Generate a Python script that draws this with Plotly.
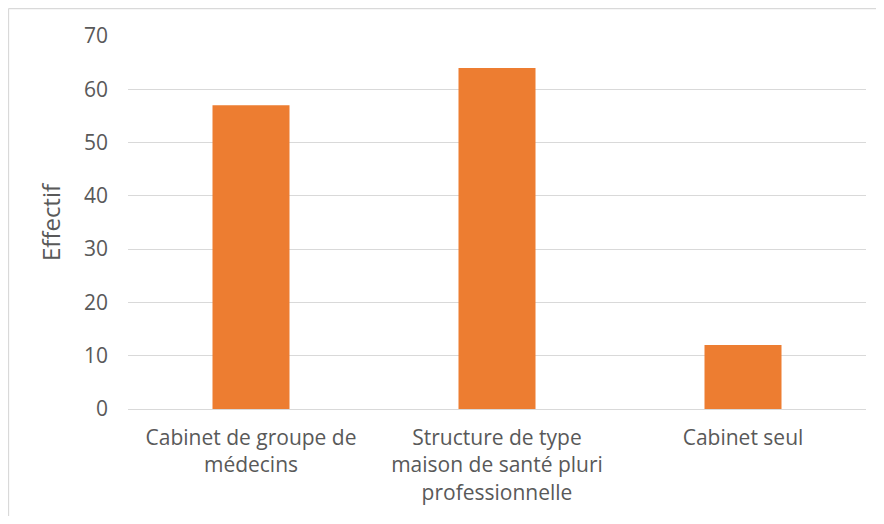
import plotly.graph_objects as go

categories = ["Cabinet de groupe de<br>médecins",
              "Structure de type<br>maison de santé pluri<br>professionnelle",
              "Cabinet seul"]
values = [57, 64, 12]
y_ticks = [0, 10, 20, 30, 40, 50, 60, 70]

# page has an 8px body margin; figure sized/offset to compensate
W, H = 868, 508
L, R, T, B = 120, 10, 28, 107
pw, ph = W - L - R, H - T - B

fig = go.Figure(go.Bar(x=categories, y=values, marker_color="#ED7D31",
                       marker_line_width=0, hoverinfo="skip"))

font_family = "Open Sans, Liberation Sans, sans-serif"
fig.update_layout(
    width=W, height=H,
    margin=dict(l=L, r=R, t=T, b=B),
    paper_bgcolor="white", plot_bgcolor="white",
    bargap=0.687,
    showlegend=False,
    font=dict(family=font_family, color="#595959", size=21),
    xaxis=dict(showgrid=False, showline=False, ticks="", tickfont=dict(size=21),
               ticklabelstandoff=14),
    yaxis=dict(range=[0, 70], tickvals=y_ticks, showgrid=True, gridcolor="#D9D9D9",
               gridwidth=1.3, zeroline=True, zerolinecolor="#D9D9D9", zerolinewidth=1.3,
               showline=False, ticks="", ticklen=0, tickfont=dict(size=21),
               ticklabelstandoff=19,
               title=dict(text="Effectif", font=dict(size=24), standoff=16)),
)

x0 = (0.5 - L) / pw
y0 = 1 + (T - 0.5) / ph
fig.add_shape(type="line", xref="paper", yref="paper", x0=x0, x1=x0, y0=y0, y1=-0.5,
              line=dict(color="#D9D9D9", width=1.3))
fig.add_shape(type="line", xref="paper", yref="paper", x0=x0, x1=1.2, y0=y0, y1=y0,
              line=dict(color="#D9D9D9", width=1.3))

fig.write_html("out.html")
